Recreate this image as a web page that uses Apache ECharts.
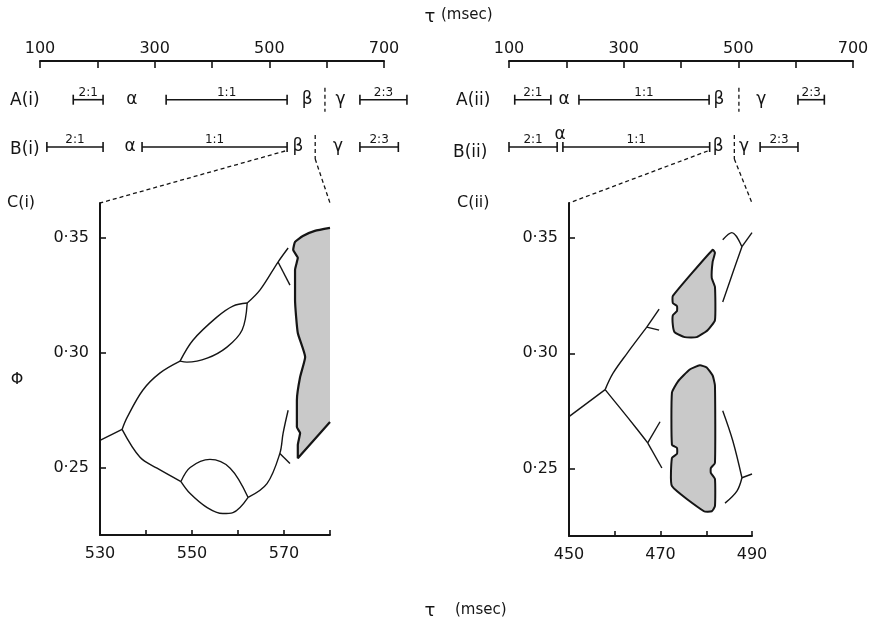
<!DOCTYPE html>
<html>
<head>
<meta charset="utf-8">
<script src="https://cdn.jsdelivr.net/npm/echarts@6/dist/echarts.min.js"></script>
<style>
  html, body { margin: 0; padding: 0; background: #fff; }
  #main { width: 872px; height: 625px; }
</style>
</head>
<body>
<div id="main"></div>
<script>
// ---- top rows: tau (msec) ranges, [start, end, ratio]
const topTicks = [100, 300, 500, 700];
const bracketsAi = [[158, 210, '2:1'], [320, 531, '1:1'], [658, 740, '2:3']];
const bracketsBi = [[112, 210, '2:1'], [278, 531, '1:1'], [658, 725, '2:3']];
const bracketsAii = [[110, 173, '2:1'], [222, 449, '1:1'], [604, 650, '2:3']];
const bracketsBii = [[100, 184, '2:1'], [194, 450, '1:1'], [538, 604, '2:3']];
// [tau, letter, row]
const lettersAi = [[260, 'α', 0.45], [566, 'β', 0.45], [624, 'γ', 0.45]];
const lettersBi = [[257, 'α', 1], [550, 'β', 1], [620, 'γ', 1]];
const lettersAii = [[196, 'α', 0.45], [466, 'β', 0.45], [540, 'γ', 0.45]];
const lettersBii = [[189, 'α', 0.86], [465, 'β', 1], [510, 'γ', 1]];
const switchI = [[597, 0.45], [580, 1]];
const switchII = [[501, 0.45], [493, 1]];
const rowA = 0.45, rowB = 1;

// ---- C(i): tau 530-580, phi
const c1Left = [[530, 0.262], [534.8, 0.2668]];
const c1Upper = [[534.8, 0.2668], [535.9, 0.272], [539.3, 0.2838], [543.0, 0.2912], [547.4, 0.2964]];
const c1LensTop = [[547.4, 0.2964], [550.2, 0.3055], [555.4, 0.3155], [558.9, 0.3203], [562.0, 0.3216]];
const c1LensBottom = [[547.4, 0.2964], [548.9, 0.2960], [553.3, 0.2977], [557.6, 0.3025], [560.9, 0.3099], [562.0, 0.3216]];
const c1Rise = [[562.0, 0.3216], [564.8, 0.3273], [568.7, 0.3394], [570.9, 0.3455]];
const c1RiseSpur = [[568.7, 0.3394], [571.3, 0.3294]];
const c1Lower = [[534.8, 0.2668], [538.7, 0.2547], [542.4, 0.25], [547.6, 0.2442]];
const c1Lens2Top = [[547.6, 0.2442], [549.6, 0.2503], [553.9, 0.2538], [558.3, 0.25], [562.2, 0.2373]];
const c1Lens2Bottom = [[547.6, 0.2442], [549.6, 0.2390], [553.3, 0.2329], [556.7, 0.2303], [558.9, 0.2307], [562.2, 0.2373]];
const c1Climb = [[562.2, 0.2373], [566.3, 0.2433], [569.1, 0.2564], [569.8, 0.2651], [570.9, 0.2751]];
const c1ClimbSpur = [[569.1, 0.2564], [571.3, 0.252]];
const c1Shade = [[580, 0.3542], [576.7, 0.3529], [574.1, 0.3507], [572.4, 0.3481], [572.0, 0.3447], [573.0, 0.3412],
  [572.4, 0.3360], [572.4, 0.3229], [573.0, 0.3086], [574.6, 0.2982], [573.5, 0.2895], [572.8, 0.2795],
  [572.8, 0.2678], [573.5, 0.2652], [573.0, 0.2600], [573.0, 0.2543], [580, 0.2700]];

// ---- C(ii): tau 450-490, phi
const c2Left = [[450, 0.2726], [457.9, 0.2843]];
const c2Up = [[457.9, 0.2843], [459.6, 0.2913], [462.7, 0.30], [467.0, 0.3113]];
const c2UpSpurA = [[467.0, 0.3113], [469.7, 0.3191]];
const c2UpSpurB = [[467.0, 0.3113], [469.7, 0.31]];
const c2Down = [[457.9, 0.2843], [461.1, 0.2765], [464.8, 0.2674], [467.2, 0.2613]];
const c2DownSpurA = [[467.2, 0.2613], [469.9, 0.2704]];
const c2DownSpurB = [[467.2, 0.2613], [470.3, 0.2504]];
const c2TopHook = [[483.6, 0.3491], [485.6, 0.3522], [487.8, 0.3461]];
const c2TopArm = [[487.8, 0.3461], [490, 0.3522]];
const c2TopTrunk = [[487.8, 0.3461], [485.8, 0.3348], [483.6, 0.3222]];
const c2LowTrunk = [[483.6, 0.2752], [485.8, 0.2622], [487.8, 0.2462]];
const c2LowArm = [[487.8, 0.2462], [490, 0.2478]];
const c2LowHook = [[487.8, 0.2462], [486.7, 0.2404], [484.1, 0.2352]];
const c2ShadeUpper = [[472.7, 0.3248], [481.4, 0.3448], [481.9, 0.3435], [481.4, 0.3396], [481.2, 0.3326],
  [481.9, 0.3287], [481.9, 0.3143], [480.3, 0.3100], [477.9, 0.3070], [475.3, 0.3070], [473.1, 0.3091],
  [472.7, 0.3122], [472.7, 0.3165], [473.6, 0.3183], [473.6, 0.3204], [472.7, 0.3217]];
const c2ShadeLower = [[478.6, 0.2948], [480.1, 0.2939], [481.4, 0.2904], [481.9, 0.2861], [481.9, 0.2526],
  [481.0, 0.2504], [481.0, 0.2483], [481.9, 0.2457], [481.9, 0.2339], [481.2, 0.2317], [479.5, 0.2317],
  [472.5, 0.2426], [472.5, 0.2548], [473.6, 0.2565], [473.6, 0.2591], [472.5, 0.2604], [472.5, 0.2830],
  [473.8, 0.2878], [476.4, 0.2930]];

const phiTicks = [0.25, 0.30, 0.35];
const phiMin = 0.221, phiMax = 0.365;

const ink = '#151515';
const font = 'DejaVu Sans';

function bracketSeries(list, row, grid) {
  return {
    type: 'custom', xAxisIndex: grid, yAxisIndex: grid,
    data: list.map(b => [b[0], b[1], row]),
    encode: { x: [0, 1], y: 2 },
    renderItem(params, api) {
      const s = api.coord([api.value(0), api.value(2)]);
      const e = api.coord([api.value(1), api.value(2)]);
      const st = { stroke: ink, lineWidth: 1.6 };
      return {
        type: 'group', children: [
          { type: 'line', shape: { x1: s[0], y1: s[1], x2: e[0], y2: e[1] }, style: st },
          { type: 'line', shape: { x1: s[0], y1: s[1] - 5, x2: s[0], y2: s[1] + 5 }, style: st },
          { type: 'line', shape: { x1: e[0], y1: e[1] - 5, x2: e[0], y2: e[1] + 5 }, style: st },
          { type: 'text', x: (s[0] + e[0]) / 2, y: s[1] - 1,
            style: { text: list[params.dataIndex][2], font: '12px ' + font, fill: ink,
                     textAlign: 'center', textVerticalAlign: 'bottom' } }
        ]
      };
    }
  };
}

function letterSeries(list, grid) {
  return {
    type: 'custom', xAxisIndex: grid, yAxisIndex: grid,
    data: list.map(l => [l[0], l[2]]),
    renderItem(params, api) {
      const p = api.coord([api.value(0), api.value(1)]);
      return { type: 'text', x: p[0], y: p[1],
        style: { text: list[params.dataIndex][1], font: '17px ' + font, fill: ink,
                 textAlign: 'center', textVerticalAlign: 'middle' } };
    }
  };
}

function switchSeries(list, grid) {
  return {
    type: 'custom', xAxisIndex: grid, yAxisIndex: grid,
    data: list,
    renderItem(params, api) {
      const p = api.coord([api.value(0), api.value(1)]);
      return { type: 'line', shape: { x1: p[0], y1: p[1] - 12, x2: p[0], y2: p[1] + 12 },
        style: { stroke: ink, lineWidth: 1.3, lineDash: [4, 3] } };
    }
  };
}

function curve(points, grid) {
  return {
    type: 'line', xAxisIndex: grid, yAxisIndex: grid, data: points,
    symbol: 'none', smooth: 0.35, silent: true,
    lineStyle: { color: ink, width: 1.4 }
  };
}

function shade(points, grid, stroke, smooth) {
  return {
    type: 'custom', xAxisIndex: grid, yAxisIndex: grid, data: points, silent: true,
    renderItem(params, api) {
      if (params.dataIndex !== 0) return;
      return { type: 'polygon', shape: { points: points.map(p => api.coord(p)), smooth: smooth },
        style: { fill: '#c9c9c9', stroke: stroke ? ink : null, lineWidth: 2 } };
    }
  };
}

function topAxis(grid) {
  return {
    type: 'value', gridIndex: grid, position: 'top', min: 100, max: 700, interval: 100,
    axisLine: { lineStyle: { color: ink, width: 2 } },
    axisTick: { inside: true, length: 7, lineStyle: { color: ink, width: 1.6 } },
    axisLabel: { customValues: topTicks, margin: 4, fontSize: 16, fontFamily: font, color: ink },
    splitLine: { show: false }
  };
}

function panelX(grid, min, max, labels) {
  return {
    type: 'value', gridIndex: grid, min: min, max: max, interval: 10,
    axisLine: { onZero: false, lineStyle: { color: ink, width: 2 } },
    axisTick: { inside: true, length: 5, lineStyle: { color: ink, width: 1.6 } },
    axisLabel: { customValues: labels, margin: 11, fontSize: 16, fontFamily: font, color: ink },
    splitLine: { show: false }
  };
}

function panelY(grid) {
  return {
    type: 'value', gridIndex: grid, min: phiMin, max: phiMax,
    axisLine: { show: true, onZero: false, lineStyle: { color: ink, width: 2 } },
    axisTick: { show: true, inside: true, length: 6, customValues: phiTicks, lineStyle: { color: ink, width: 1.6 } },
    axisLabel: { customValues: phiTicks, margin: 11, fontSize: 16, fontFamily: font, color: ink,
                 formatter: v => v.toFixed(2).replace('.', '·') },
    splitLine: { show: false }
  };
}

const rowY = grid => ({ type: 'value', gridIndex: grid, min: 0, max: 1, inverse: true, show: false });

const c1Lines = [c1Left, c1Upper, c1LensTop, c1LensBottom, c1Rise, c1RiseSpur, c1Lower,
  c1Lens2Top, c1Lens2Bottom, c1Climb, c1ClimbSpur];
const c2Lines = [c2Left, c2Up, c2UpSpurA, c2UpSpurB, c2Down, c2DownSpurA, c2DownSpurB,
  c2TopHook, c2TopArm, c2TopTrunk, c2LowTrunk, c2LowArm, c2LowHook];

const option = {
  animation: false,
  backgroundColor: '#fff',
  grid: [
    { left: 40, top: 61, width: 344, height: 86 },
    { left: 509, top: 61, width: 344, height: 86 },
    { left: 100, top: 203, width: 230, height: 332 },
    { left: 569, top: 203, width: 183, height: 333 }
  ],
  xAxis: [topAxis(0), topAxis(1), panelX(2, 530, 580, [530, 550, 570]), panelX(3, 450, 490, [450, 470, 490])],
  yAxis: [rowY(0), rowY(1), panelY(2), panelY(3)],
  series: [
    bracketSeries(bracketsAi, rowA, 0), bracketSeries(bracketsBi, rowB, 0),
    bracketSeries(bracketsAii, rowA, 1), bracketSeries(bracketsBii, rowB, 1),
    letterSeries(lettersAi, 0), letterSeries(lettersBi, 0),
    letterSeries(lettersAii, 1), letterSeries(lettersBii, 1),
    switchSeries(switchI, 0), switchSeries(switchII, 1),
    shade(c1Shade, 2, false, 0),
    curve(c1Shade, 2),
    shade(c2ShadeUpper, 3, true, 0.15), shade(c2ShadeLower, 3, true, 0.15)
  ].concat(c1Lines.map(p => curve(p, 2)), c2Lines.map(p => curve(p, 3)))
};
option.series[11].smooth = 0.15;
option.series[11].lineStyle = { color: ink, width: 2.2 };

const chart = echarts.init(document.getElementById('main'));
chart.setOption(option);

// dashed connectors from the B rows to the enlarged panels
const px = (g, v) => chart.convertToPixel({ gridIndex: g }, v);
function dashed(a, b) {
  return { type: 'line', shape: { x1: a[0], y1: a[1], x2: b[0], y2: b[1] },
    style: { stroke: ink, lineWidth: 1.3, lineDash: [4, 3] } };
}
const b1L = px(0, [bracketsBi[1][1], rowB]), b1R = px(0, switchI[1]);
const b2L = px(1, [bracketsBii[1][1], rowB]), b2R = px(1, switchII[1]);
const c1TL = px(2, [530, phiMax]), c1TR = px(2, [580, phiMax]);
const c2TL = px(3, [450, phiMax]), c2TR = px(3, [490, phiMax]);

function txt(x, y, text, size, align) {
  return { type: 'text', x: x, y: y,
    style: { text: text, font: size + 'px ' + font, fill: ink, textAlign: align || 'left', textVerticalAlign: 'middle' } };
}

chart.setOption({
  graphic: [
    dashed([b1L[0] - 2, b1L[1] + 4], c1TL), dashed([b1R[0], b1R[1] + 12], c1TR),
    dashed([b2L[0] - 2, b2L[1] + 4], c2TL), dashed([b2R[0], b2R[1] + 12], c2TR),
    txt(430, 17, 'τ', 18, 'center'), txt(441, 15, '(msec)', 15),
    txt(430, 611, 'τ', 18, 'center'), txt(455, 610, '(msec)', 15),
    txt(10, 101, 'A(i)', 17), txt(10, 150, 'B(i)', 17),
    txt(456, 101, 'A(ii)', 17), txt(453, 153, 'B(ii)', 17),
    txt(7, 203, 'C(i)', 16), txt(457, 203, 'C(ii)', 16),
    txt(17, 380, 'Φ', 16, 'center')
  ]
});
</script>
</body>
</html>
